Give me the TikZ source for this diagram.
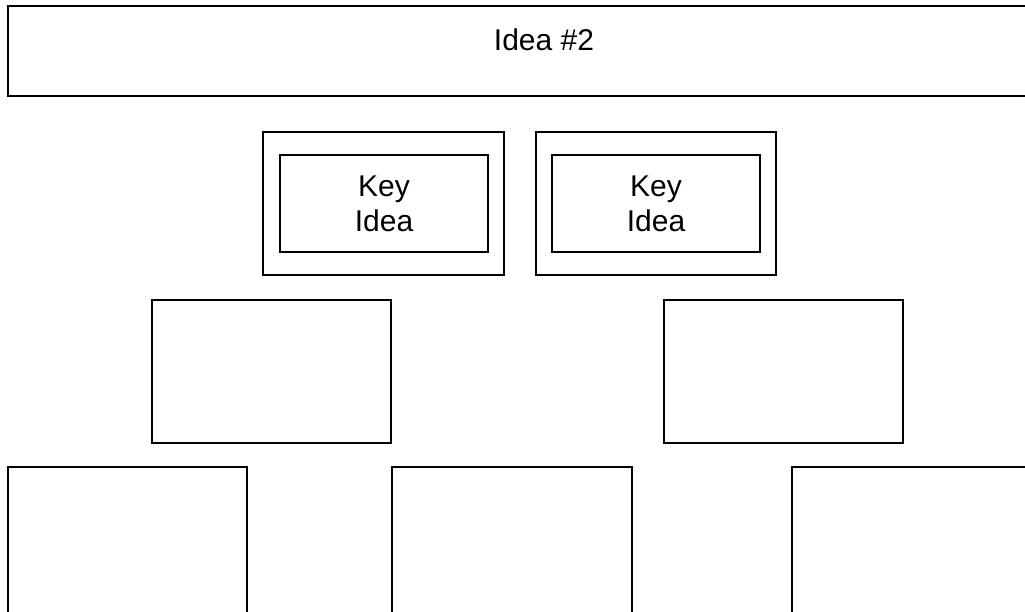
\documentclass[tikz,border=0pt]{standalone}
\usepackage{fontspec}
\setmainfont{Liberation Sans}
\begin{document}
\begin{tikzpicture}[x=1pt,y=-1pt,
  box/.style={draw=black, line width=1.8pt, rectangle, inner sep=0pt, fill=none},
  lbl/.style={font=\fontsize{30}{35}\selectfont, align=center, inner sep=0pt}]
\useasboundingbox (0,0) rectangle (1025,611);
\clip (0,0) rectangle (1025,611);
% top banner
\node[box, minimum width=1090pt, minimum height=90pt] (top) at (553,51) {};
\node[lbl] (title) at (544,40) {Idea \#2};
% key idea boxes
\node[box, minimum width=241pt, minimum height=143pt] (k1o) at (383.5,203.5) {};
\node[box, lbl, minimum width=208pt, minimum height=97pt] (k1i) at (384,203.5) {Key\\Idea};
\node[box, minimum width=240pt, minimum height=143pt] (k2o) at (656,203.5) {};
\node[box, lbl, minimum width=208pt, minimum height=97pt] (k2i) at (656,203.5) {Key\\Idea};
% middle row
\node[box, minimum width=239pt, minimum height=143pt] (m1) at (271.5,371.5) {};
\node[box, minimum width=239pt, minimum height=143pt] (m2) at (783.5,371.5) {};
% bottom row
\node[box, minimum width=239pt, minimum height=160pt] (b1) at (127.5,547) {};
\node[box, minimum width=240pt, minimum height=160pt] (b2) at (512,547) {};
\node[box, minimum width=240pt, minimum height=160pt] (b3) at (912,547) {};
\end{tikzpicture}
\end{document}
